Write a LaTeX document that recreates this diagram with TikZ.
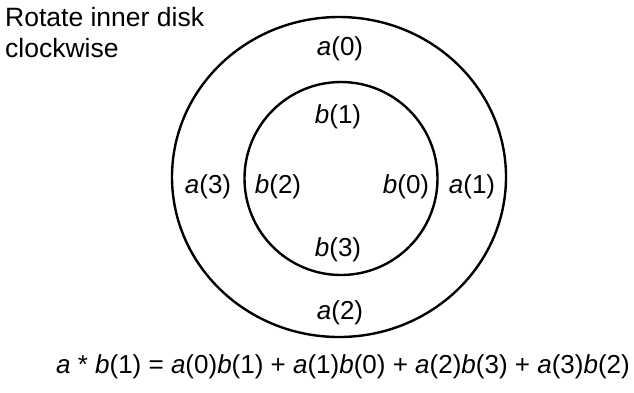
\documentclass[tikz,border=0pt]{standalone}
\usepackage{fontspec}
\setmainfont{Liberation Sans}
\usetikzlibrary{shapes.geometric}
\begin{document}
\begin{tikzpicture}[x=1pt,y=-1pt,
  ring/.style={draw=black, line width=2.4pt, inner sep=0pt, outer sep=0pt},
  lbl/.style={font=\fontsize{26}{31}\selectfont, inner sep=0pt, anchor=base},
  ttl/.style={font=\fontsize{26.5}{31}\selectfont, inner sep=0pt, anchor=base west}]
\useasboundingbox (0,0) rectangle (634,392);
\node[ring, ellipse, minimum width=334pt, minimum height=320pt] (outer) at (339,177) {};
\node[ring, circle, minimum size=193pt] (inner) at (341,178.5) {};
\node[ttl] (t1) at (5,26) {Rotate inner disk};
\node[ttl] (t2) at (5,57) {clockwise};
\node[lbl] (a0) at (340,55) {\textit{a}(0)};
\node[lbl] (b1) at (338,123) {\textit{b}(1)};
\node[lbl] (a3) at (208,193) {\textit{a}(3)};
\node[lbl] (b2) at (278,193) {\textit{b}(2)};
\node[lbl] (b0) at (406,193) {\textit{b}(0)};
\node[lbl] (a1) at (472,193) {\textit{a}(1)};
\node[lbl] (b3) at (338,256) {\textit{b}(3)};
\node[lbl] (a2) at (340,319) {\textit{a}(2)};
\node[lbl, anchor=base east] (eq) at (630,373) {\textit{a} * \textit{b}(1) = \textit{a}(0)\textit{b}(1) + \textit{a}(1)\textit{b}(0) + \textit{a}(2)\textit{b}(3) + \textit{a}(3)\textit{b}(2)};
\end{tikzpicture}
\end{document}
